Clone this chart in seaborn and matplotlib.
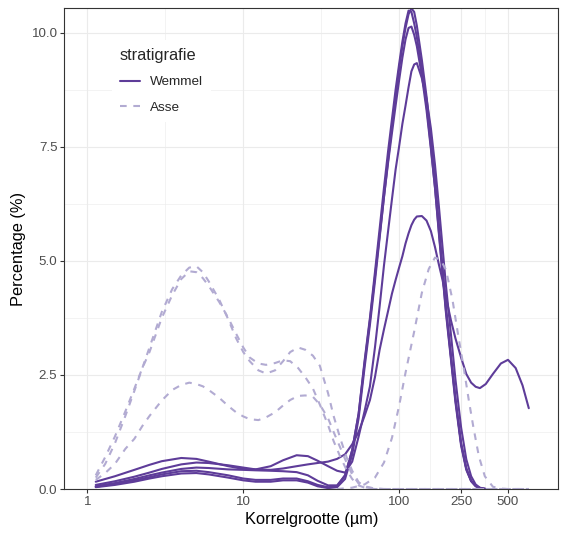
import matplotlib
matplotlib.use("Agg")
import matplotlib.pyplot as plt
import pandas as pd
import seaborn as sns
from matplotlib.lines import Line2D
from matplotlib.ticker import FixedLocator, NullFormatter

korrel_wemmel = [1.13, 1.5, 2, 2.5, 3, 4, 5, 6, 8, 10, 12, 15, 18, 22, 26, 30, 35, 40,
                 45, 50, 55, 60, 65, 70, 75, 80, 85, 90, 95, 100, 105, 110, 115, 120,
                 125, 130, 140, 150, 160, 170, 180, 190, 200, 215, 230, 250, 270, 290,
                 310, 330, 360]
korrel_wemmel_lang = korrel_wemmel + [400, 450, 500, 560, 620, 680]
korrel_asse = [1.13, 1.3, 1.5, 1.75, 2, 2.25, 2.5, 3, 3.5, 4, 4.5, 5, 5.5, 6, 7, 8, 9,
               10, 11, 12.5, 14, 16, 18, 20, 22.5, 25, 28, 31, 35, 38, 42, 46, 50, 55,
               60, 70, 80, 100, 150, 200, 300, 400, 500, 680]
korrel_asse_grof = [40, 50, 60, 70, 80, 90, 100, 110, 125, 140, 155, 170, 185, 200, 220,
                    240, 260, 280, 300, 325, 355, 400, 450, 500, 560, 620, 680]

# Wemmel monsters (percentage)
wemmel_1 = [0.05, 0.11, 0.19, 0.26, 0.32, 0.39, 0.40, 0.37, 0.30, 0.23, 0.20, 0.20, 0.23,
            0.23, 0.17, 0.09, 0.04, 0.06, 0.30, 0.85, 1.65, 2.80, 3.75, 4.75, 5.70, 6.60,
            7.40, 8.10, 8.75, 9.30, 9.80, 10.20, 10.48, 10.45, 10.20, 9.90, 9.20, 8.40,
            7.50, 6.60, 5.60, 4.70, 3.85, 2.85, 1.90, 0.95, 0.42, 0.17, 0.06, 0.02, 0.00]
wemmel_2 = [0.04, 0.09, 0.16, 0.23, 0.28, 0.34, 0.35, 0.32, 0.25, 0.19, 0.16, 0.16, 0.19,
            0.19, 0.14, 0.06, 0.02, 0.04, 0.22, 0.75, 1.55, 2.65, 3.60, 4.55, 5.50, 6.40,
            7.20, 7.95, 8.60, 9.20, 9.70, 10.10, 10.40, 10.53, 10.45, 10.15, 9.40, 8.60,
            7.70, 6.80, 5.80, 4.85, 4.00, 2.95, 2.00, 1.00, 0.45, 0.18, 0.07, 0.02, 0.00]
wemmel_3 = [0.06, 0.13, 0.22, 0.30, 0.36, 0.44, 0.47, 0.46, 0.43, 0.42, 0.41, 0.40, 0.39,
            0.37, 0.30, 0.18, 0.08, 0.08, 0.30, 0.85, 1.65, 2.75, 3.70, 4.65, 5.55, 6.40,
            7.15, 7.80, 8.40, 8.95, 9.45, 9.85, 10.10, 10.13, 9.95, 9.70, 9.05, 8.30, 7.45,
            6.60, 5.65, 4.75, 3.90, 2.90, 1.95, 1.00, 0.45, 0.18, 0.07, 0.02, 0.00]
wemmel_4 = [0.16, 0.28, 0.42, 0.53, 0.61, 0.68, 0.66, 0.60, 0.50, 0.44, 0.43, 0.50, 0.63,
            0.74, 0.72, 0.62, 0.50, 0.40, 0.36, 0.60, 1.15, 1.70, 2.25, 3.10, 4.00, 4.90,
            5.65, 6.35, 7.00, 7.50, 8.00, 8.40, 8.80, 9.15, 9.30, 9.33, 9.00, 8.55, 7.90,
            7.10, 6.20, 5.30, 4.45, 3.40, 2.40, 1.35, 0.65, 0.28, 0.10, 0.03, 0.00]
wemmel_5 = [0.09, 0.17, 0.27, 0.36, 0.44, 0.54, 0.58, 0.57, 0.52, 0.47, 0.43, 0.42, 0.45,
            0.50, 0.54, 0.57, 0.60, 0.66, 0.76, 0.98, 1.25, 1.60, 1.95, 2.45, 3.05, 3.50,
            3.90, 4.28, 4.58, 4.85, 5.10, 5.38, 5.60, 5.78, 5.90, 5.97, 5.98, 5.88, 5.65,
            5.30, 4.92, 4.58, 4.20, 3.70, 3.30, 2.88, 2.52, 2.33, 2.24, 2.21, 2.30, 2.52,
            2.75, 2.83, 2.65, 2.27, 1.77]

# Asse monsters (percentage)
asse_1 = [0.25, 0.55, 1.00, 1.60, 2.15, 2.65, 3.10, 3.88, 4.38, 4.68, 4.85, 4.88, 4.75,
          4.55, 4.15, 3.72, 3.30, 3.00, 2.80, 2.60, 2.53, 2.60, 2.80, 3.00, 3.10, 3.05,
          2.92, 2.70, 2.10, 1.60, 1.10, 0.70, 0.40, 0.15, 0.06, 0.01, 0, 0, 0, 0, 0, 0, 0, 0]
asse_2 = [0.30, 0.70, 1.15, 1.70, 2.20, 2.65, 3.00, 3.75, 4.25, 4.60, 4.77, 4.75, 4.62,
          4.45, 4.10, 3.75, 3.40, 3.10, 2.88, 2.75, 2.72, 2.76, 2.82, 2.80, 2.65, 2.45,
          2.20, 1.85, 1.40, 1.05, 0.70, 0.42, 0.22, 0.08, 0.03, 0, 0, 0, 0, 0, 0, 0, 0, 0]
asse_3 = [0.20, 0.35, 0.55, 0.88, 1.10, 1.38, 1.60, 1.94, 2.17, 2.28, 2.33, 2.30, 2.25,
          2.17, 2.00, 1.82, 1.68, 1.59, 1.53, 1.51, 1.57, 1.68, 1.83, 1.95, 2.04, 2.05,
          2.02, 1.85, 1.55, 1.25, 0.90, 0.58, 0.32, 0.12, 0.04, 0.01, 0, 0, 0, 0, 0, 0, 0, 0]
asse_4 = [0, 0.03, 0.10, 0.25, 0.58, 1.12, 1.82, 2.55, 3.45, 4.30, 4.82, 5.07, 5.02, 4.80,
          4.15, 3.35, 2.65, 1.95, 1.35, 0.72, 0.28, 0.05, 0.01, 0, 0, 0, 0]

monsters = [
    ("W1", "Wemmel", korrel_wemmel, wemmel_1),
    ("W2", "Wemmel", korrel_wemmel, wemmel_2),
    ("W3", "Wemmel", korrel_wemmel, wemmel_3),
    ("W4", "Wemmel", korrel_wemmel, wemmel_4),
    ("W5", "Wemmel", korrel_wemmel_lang, wemmel_5),
    ("A1", "Asse", korrel_asse, asse_1),
    ("A2", "Asse", korrel_asse, asse_2),
    ("A3", "Asse", korrel_asse, asse_3),
    ("A4", "Asse", korrel_asse_grof, asse_4),
]
df = pd.concat([
    pd.DataFrame({"korrel": x, "percentage": y, "monster": m, "stratigrafie": s})
    for m, s, x, y in monsters
], ignore_index=True)

x_breaks = [1, 10, 100, 250, 500]
x_minor = [3.162, 31.62, 158.1, 353.6]
y_breaks = [0, 2.5, 5.0, 7.5, 10.0]
y_minor = [1.25, 3.75, 6.25, 8.75]

kleuren = {"Wemmel": "#5E3C99", "Asse": "#B2ABD2"}
strepen = {"Wemmel": "", "Asse": (3.2, 3.2)}

sns.set_theme(style="ticks")
plt.rcParams["font.family"] = ["Liberation Sans", "DejaVu Sans"]

fig = plt.figure(figsize=(5.67, 5.4), dpi=100)
ax = fig.add_axes([0.1134, 0.0944, 0.8713, 0.8902])

sns.lineplot(data=df, x="korrel", y="percentage", hue="stratigrafie",
             style="stratigrafie", units="monster", estimator=None,
             hue_order=["Wemmel", "Asse"], style_order=["Wemmel", "Asse"],
             palette=kleuren, dashes=strepen, linewidth=1.5, ax=ax)

ax.set_xscale("log")
ax.set_xlim(0.71, 1052)
ax.set_ylim(0, 10.53)
ax.xaxis.set_major_locator(FixedLocator(x_breaks))
ax.set_xticklabels([str(b) for b in x_breaks])
ax.xaxis.set_minor_locator(FixedLocator(x_minor))
ax.xaxis.set_minor_formatter(NullFormatter())
ax.yaxis.set_major_locator(FixedLocator(y_breaks))
ax.set_yticklabels([f"{b:.1f}" for b in y_breaks])
ax.yaxis.set_minor_locator(FixedLocator(y_minor))

ax.grid(which="major", color="#EBEBEB", linewidth=0.8)
ax.grid(which="minor", color="#EBEBEB", linewidth=0.4)
ax.set_axisbelow(True)
for sp in ax.spines.values():
    sp.set_visible(True)
    sp.set_color("#333333")
    sp.set_linewidth(0.8)
ax.tick_params(which="major", length=2.7, width=0.8, color="#333333",
               labelcolor="#4D4D4D", labelsize=9.6, pad=2.2)
ax.tick_params(which="minor", length=0)

ax.set_xlabel("Korrelgrootte (µm)", fontsize=11.8, color="black", labelpad=3)
ax.set_ylabel("Percentage (%)", fontsize=11.8, color="black", labelpad=4)

ax.get_legend().remove()
handles = [Line2D([], [], color=kleuren["Wemmel"], linewidth=1.5),
           Line2D([], [], color=kleuren["Asse"], linewidth=1.5, dashes=strepen["Asse"])]
leg = ax.legend(handles, ["Wemmel", "Asse"], title="stratigrafie", loc="upper left",
                bbox_to_anchor=(112 / 567, 1 - 40 / 540), bbox_transform=fig.transFigure,
                frameon=True, fancybox=False, facecolor="white", edgecolor="white",
                framealpha=1, fontsize=9.7, title_fontsize=11.8, handlelength=1.45,
                handletextpad=0.75, labelspacing=0.95, borderpad=0.6,
                borderaxespad=0, alignment="left")
leg.get_frame().set_linewidth(0)

fig.savefig("out.png", dpi=100)
